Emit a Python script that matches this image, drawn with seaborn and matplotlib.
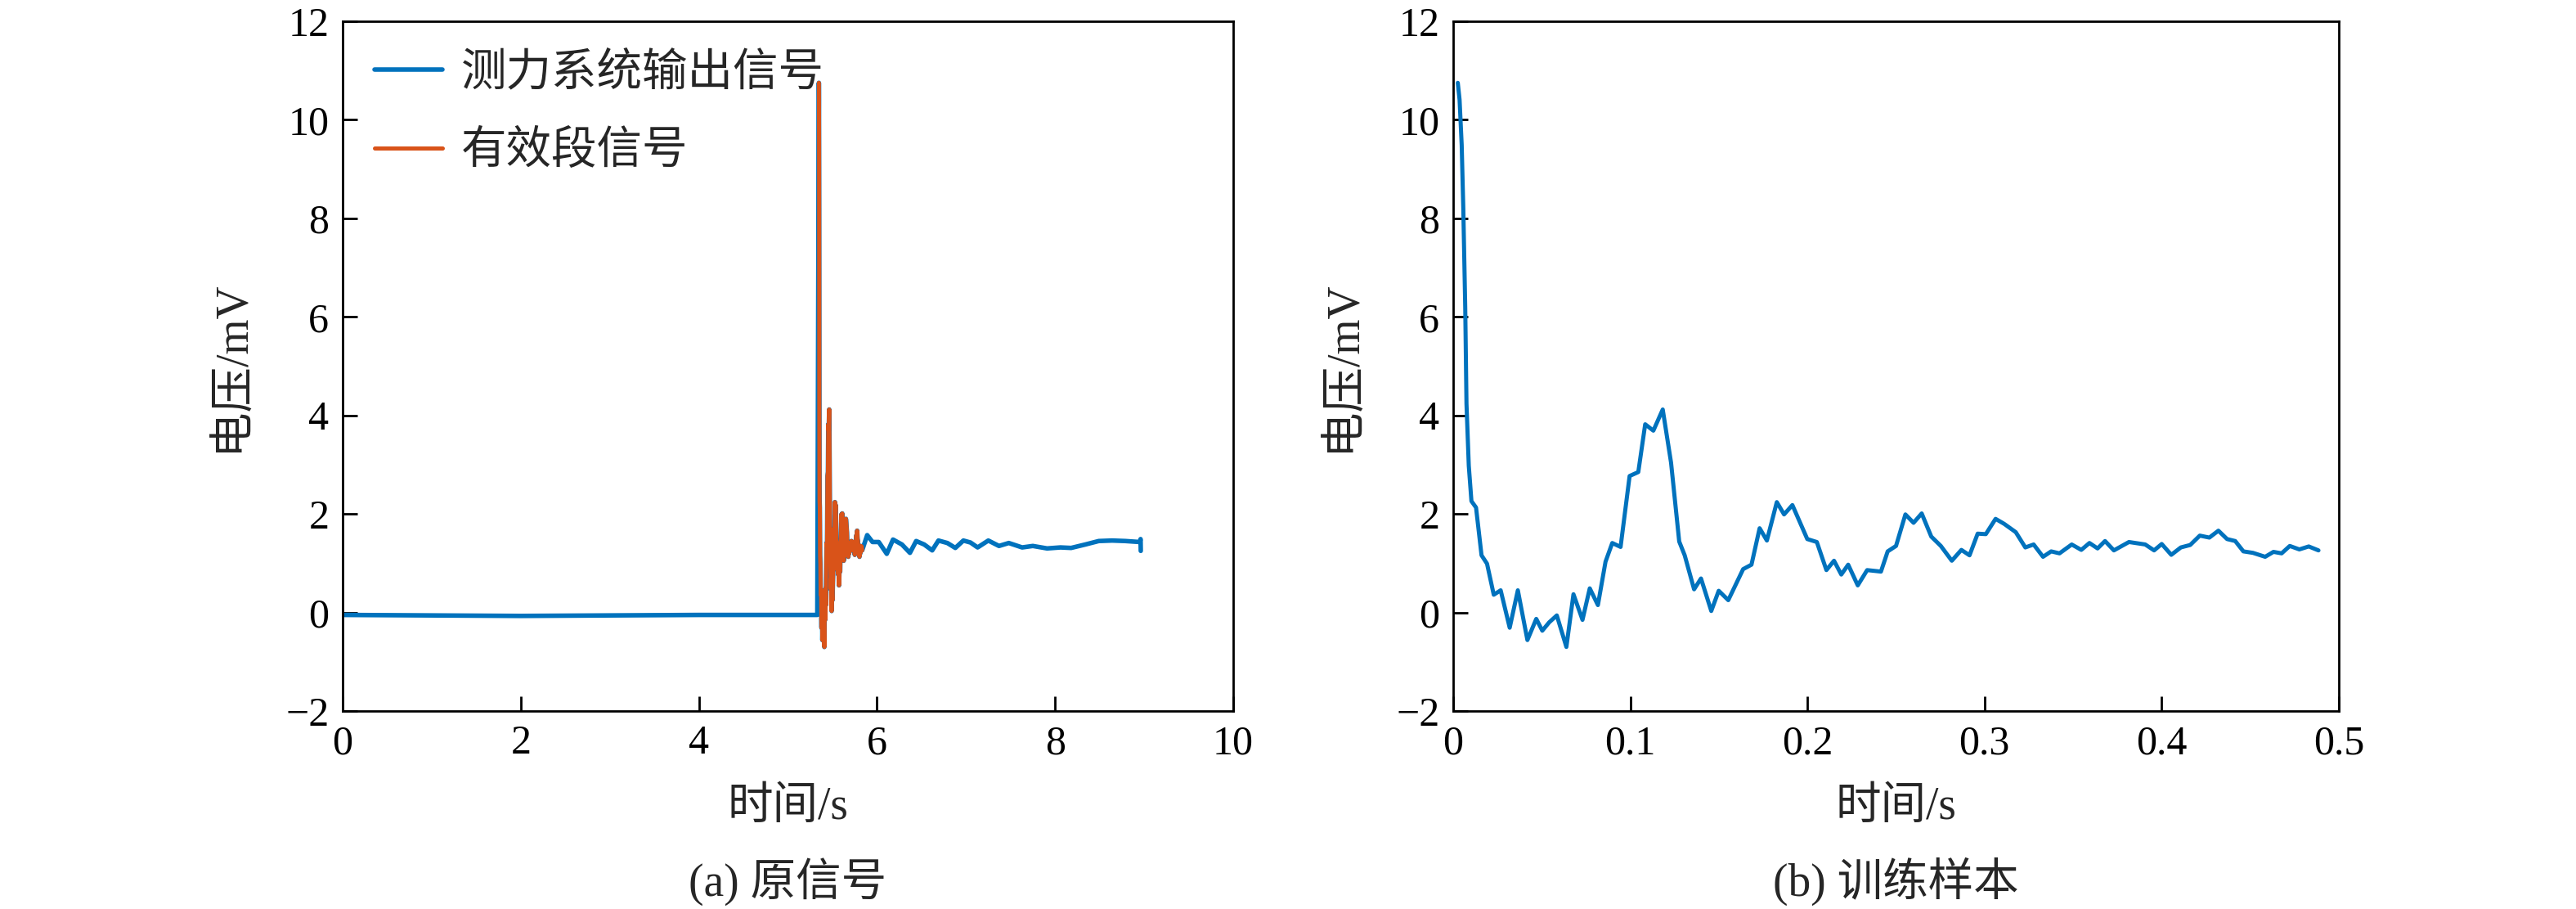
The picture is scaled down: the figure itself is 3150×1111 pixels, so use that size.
import matplotlib
matplotlib.use("Agg")
import matplotlib.pyplot as plt
import matplotlib.ticker as mticker
import seaborn as sns
import pandas as pd

# Trainingsabschnitt (b): Zeit ab Segmentbeginn in s, Spannung in mV
SEG_T = [0.0026, 0.0036, 0.0048, 0.0057, 0.0068, 0.0075, 0.0088, 0.0103, 0.0129, 0.0160,
         0.0191, 0.0229, 0.0268, 0.0319, 0.0365, 0.0419, 0.0469, 0.0503, 0.0542, 0.0585,
         0.0639, 0.0679, 0.0730, 0.0771, 0.0817, 0.0860, 0.0898, 0.0945, 0.0996, 0.1045,
         0.1084, 0.1130, 0.1183, 0.1230, 0.1276, 0.1307, 0.1360, 0.1399, 0.1457, 0.1499,
         0.1553, 0.1637, 0.1684, 0.1730, 0.1771, 0.1827, 0.1868, 0.1915, 0.1999, 0.2053,
         0.2107, 0.2150, 0.2191, 0.2230, 0.2284, 0.2337, 0.2415, 0.2453, 0.2500, 0.2553,
         0.2599, 0.2645, 0.2699, 0.2753, 0.2815, 0.2869, 0.2915, 0.2961, 0.3007, 0.3062,
         0.3110, 0.3176, 0.3230, 0.3277, 0.3330, 0.3376, 0.3423, 0.3492, 0.3546, 0.3592,
         0.3638, 0.3680, 0.3730, 0.3815, 0.3907, 0.3957, 0.4000, 0.4054, 0.4108, 0.4161,
         0.4215, 0.4269, 0.4320, 0.4369, 0.4415, 0.4461, 0.4515, 0.4584, 0.4631, 0.4677,
         0.4723, 0.4777, 0.4830, 0.4885]
SEG_V = [10.75, 10.41, 9.49, 8.21, 6.19, 4.24, 2.98, 2.26, 2.13, 1.16,
         0.99, 0.36, 0.45, -0.31, 0.45, -0.56, -0.13, -0.37, -0.20, -0.06,
         -0.70, 0.37, -0.15, 0.49, 0.15, 1.03, 1.41, 1.33, 2.77, 2.85,
         3.82, 3.69, 4.12, 3.04, 1.44, 1.16, 0.47, 0.69, 0.03, 0.44,
         0.25, 0.88, 0.97, 1.71, 1.46, 2.24, 1.99, 2.18, 1.49, 1.43,
         0.86, 1.05, 0.77, 0.97, 0.55, 0.86, 0.83, 1.24, 1.35, 1.99,
         1.82, 2.01, 1.54, 1.35, 1.05, 1.27, 1.16, 1.60, 1.59, 1.90,
         1.80, 1.63, 1.32, 1.38, 1.13, 1.24, 1.20, 1.38, 1.27, 1.41,
         1.30, 1.45, 1.26, 1.43, 1.38, 1.26, 1.39, 1.17, 1.32, 1.37,
         1.56, 1.52, 1.66, 1.49, 1.45, 1.24, 1.21, 1.13, 1.23, 1.20,
         1.35, 1.28, 1.34, 1.26]
SEG_START = 5.345  # Beginn des Segments im Originalsignal (s)

# Originalsignal (a): Ruhephase vor dem Segment
PRE_T = [0.0, 1.0, 2.0, 3.0, 4.0, 5.0, 5.33]
PRE_V = [-0.05, -0.06, -0.07, -0.06, -0.05, -0.05, -0.05]
# Originalsignal (a): Ausschwingen nach dem Segment
POST_T = [5.89, 5.95, 6.02, 6.11, 6.18, 6.28, 6.37, 6.44, 6.53, 6.62,
          6.69, 6.79, 6.88, 6.97, 7.05, 7.13, 7.25, 7.37, 7.48, 7.63,
          7.75, 7.91, 8.06, 8.18, 8.34, 8.49, 8.64, 8.79, 8.95, 8.96, 8.962]
POST_V = [1.57, 1.43, 1.43, 1.19, 1.48, 1.38, 1.21, 1.45, 1.38, 1.26,
          1.46, 1.41, 1.31, 1.46, 1.42, 1.32, 1.46, 1.35, 1.41, 1.32,
          1.35, 1.30, 1.32, 1.31, 1.38, 1.45, 1.46, 1.45, 1.43, 1.49, 1.25]

LABEL_FULL = "测力系统输出信号"
LABEL_SEG = "有效段信号"
XLABEL = "时间/s"
YLABEL = "电压/mV"
CAPTIONS = ["(a) 原信号", "(b) 训练样本"]

BLUE = "#0072BD"
ORANGE = "#D95319"
FONTS = ["Liberation Serif", "Noto Sans CJK SC"]

sns.set_theme(style="ticks")
plt.rcParams["font.family"] = FONTS
plt.rcParams["axes.unicode_minus"] = True

seg_abs = [t + SEG_START for t in SEG_T]
full = pd.DataFrame({"t": PRE_T + seg_abs + POST_T, "v": PRE_V + SEG_V + POST_V})
seg_left = pd.DataFrame({"t": seg_abs, "v": SEG_V})
seg_right = pd.DataFrame({"t": SEG_T, "v": SEG_V})

fig = plt.figure(figsize=(31.5, 11.11), dpi=100)
W, H = 3150, 1111
ax1 = fig.add_axes([419 / W, 1 - 869 / H, 1089 / W, 843 / H])
ax2 = fig.add_axes([1777 / W, 1 - 869 / H, 1083 / W, 843 / H])

sns.lineplot(data=full, x="t", y="v", ax=ax1, sort=False, estimator=None,
             color=BLUE, linewidth=4.0, label=LABEL_FULL)
sns.lineplot(data=seg_left, x="t", y="v", ax=ax1, sort=False, estimator=None,
             color=ORANGE, linewidth=3.6, label=LABEL_SEG)
sns.lineplot(data=seg_right, x="t", y="v", ax=ax2, sort=False, estimator=None,
             color=BLUE, linewidth=3.6, legend=False)

fmt = mticker.FuncFormatter(lambda v, p: f"{v:g}".replace("-", "\u2212"))

for ax, xmax, step, cap in [(ax1, 10, 2, CAPTIONS[0]), (ax2, 0.5, 0.1, CAPTIONS[1])]:
    ax.set_xlim(0, xmax)
    ax.set_ylim(-2, 12)
    ax.xaxis.set_major_locator(mticker.MultipleLocator(step))
    ax.yaxis.set_major_locator(mticker.MultipleLocator(2))
    ax.xaxis.set_major_formatter(fmt)
    ax.yaxis.set_major_formatter(fmt)
    ax.tick_params(direction="in", length=13, width=2, labelsize=36, pad=12,
                   top=False, right=False, colors="black")
    for sp in ax.spines.values():
        sp.set_visible(True)
        sp.set_linewidth(2)
        sp.set_color("black")
    ax.set_xlabel(XLABEL, fontsize=40)
    ax.set_ylabel(YLABEL, fontsize=40)
    ax.xaxis.label.set_va("center")
    ax.yaxis.label.set_va("center")
    ax.xaxis.set_label_coords(0.5, -0.14)
    ax.yaxis.set_label_coords(-0.124, 0.5)
    ax.text(0.5, -0.247, cap, transform=ax.transAxes, ha="center", va="center",
            fontsize=40)

ax1.legend(loc="upper left", frameon=False, fontsize=40, handlelength=1.5,
           handletextpad=0.4, labelspacing=0.78, borderaxespad=0.4, borderpad=0.3)

fig.savefig("out.png", dpi=100)
